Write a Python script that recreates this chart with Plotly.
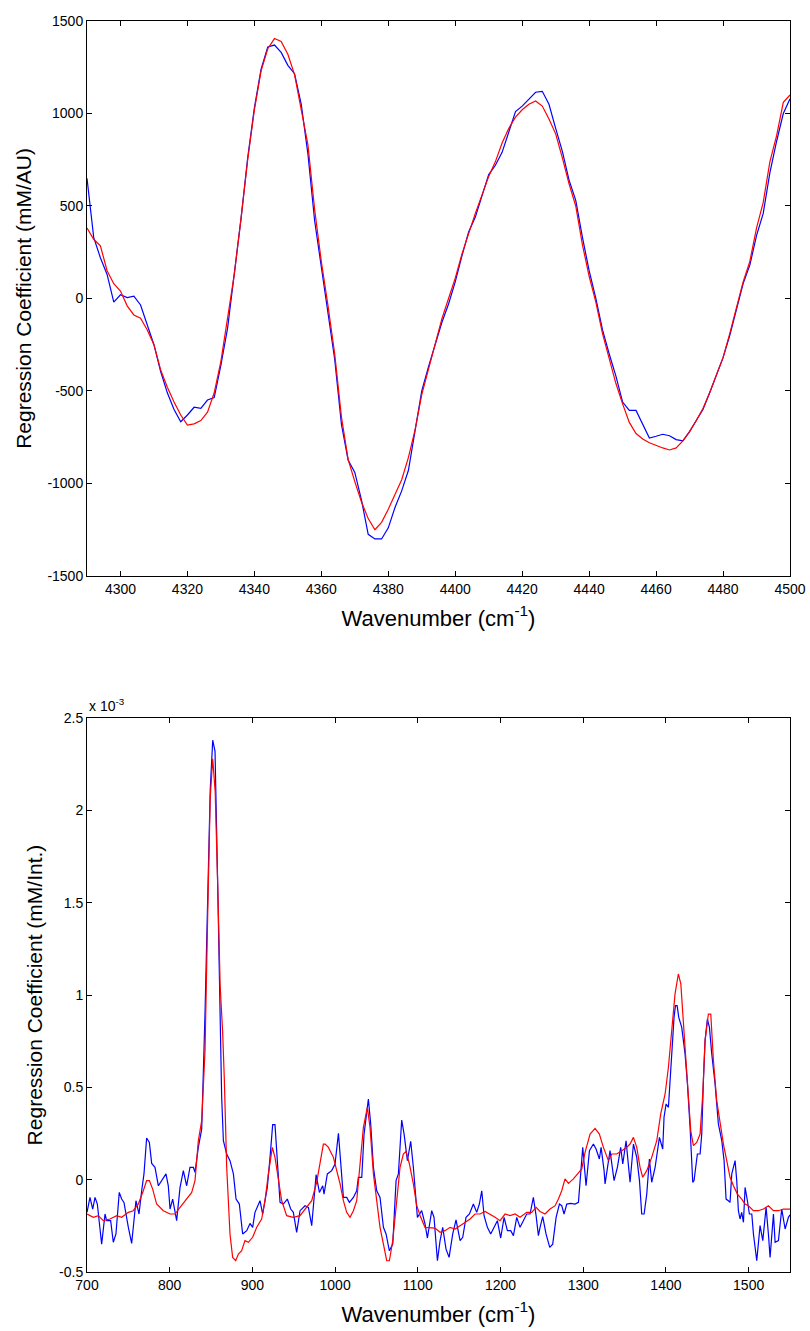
import plotly.graph_objects as go

# ---------- NIR regression vectors (upper panel) ----------
nir_wavenumber = [
    4290, 4292, 4294, 4296, 4298, 4300, 4302, 4304, 4306, 4308, 4310, 4312, 4314, 4316, 4318,
    4320, 4322, 4324, 4326, 4328, 4330, 4332, 4334, 4336, 4338, 4340, 4342, 4344, 4346, 4348,
    4350, 4352, 4354, 4356, 4358, 4360, 4362, 4364, 4366, 4368, 4370, 4372, 4374, 4376, 4378,
    4380, 4382, 4384, 4386, 4388, 4390, 4392, 4394, 4396, 4398, 4400, 4402, 4404, 4406, 4408,
    4410, 4412, 4414, 4416, 4418, 4420, 4422, 4424, 4426, 4428, 4430, 4432, 4434, 4436, 4438,
    4440, 4442, 4444, 4446, 4448, 4450, 4452, 4454, 4456, 4458, 4460, 4462, 4464, 4466, 4468,
    4470, 4472, 4474, 4476, 4478, 4480, 4482, 4484, 4486, 4488, 4490, 4492, 4494, 4496, 4498,
    4500,
]
nir_blue = [
    650, 330, 220, 130, -20, 20, 5, 13, -35, -140, -250, -395, -510, -600, -666,
    -630, -588, -594, -549, -536, -360, -160, 120, 430, 760, 1030, 1240, 1360, 1370, 1330,
    1260, 1215, 1050, 780, 420, 170, -100, -330, -680, -873, -940, -1090, -1275, -1300, -1300,
    -1240, -1130, -1040, -930, -711, -500, -370, -250, -130, -30, 90, 230, 360, 440, 560,
    670, 720, 790, 900, 1010, 1040, 1080, 1115, 1120, 1050, 920, 795, 640, 530, 330,
    150, 0, -170, -300, -420, -560, -605, -605, -680, -755, -745, -734, -742, -763, -770,
    -720, -660, -600, -510, -420, -320, -200, -60, 80, 180, 340, 460, 680, 850, 1000,
    1080,
]
nir_red = [
    381, 320, 285, 150, 80, 40, -40, -89, -107, -170, -250, -386, -480, -560, -630,
    -684, -678, -660, -615, -510, -340, -110, 130, 430, 750, 1020, 1230, 1350, 1405, 1390,
    1320, 1210, 1020, 830, 480, 200, -40, -300, -640, -870, -990, -1100, -1190, -1250, -1210,
    -1140, -1060, -980, -860, -711, -520, -380, -250, -110, 0, 110, 240, 352, 460, 560,
    660, 740, 840, 920, 980, 1020, 1050, 1068, 1040, 970, 890, 760, 620, 500, 290,
    120, -20, -190, -330, -460, -570, -670, -730, -760, -780, -795, -808, -819, -808, -770,
    -720, -660, -595, -510, -410, -320, -190, -50, 90, 200, 380, 520, 740, 880, 1060,
    1100,
]

# ---------- Raman regression vectors (lower panel, units of 1e-3) ----------
raman_blue_x = [
    700, 703.6, 706.9, 709.7, 712.5, 717.7, 721.8, 723.8, 728.6, 731.8, 735, 739, 741.9, 744.7,
    750, 754, 759.2, 762.9, 766.1, 768.9, 772.1, 775.4, 778.2, 782.2, 786.3, 790.3, 795.5,
    798.3, 800.4, 803.6, 808.4, 812.5, 816.5, 820.5, 824.5, 828.6, 830.6, 834.6, 838.7, 842.7,
    846, 849, 852, 854.8, 858, 860.8, 862.8, 864.9, 868.9, 872.9, 877, 880.2, 884.2, 888.2,
    893.1, 897.1, 900.3, 903.1, 909.2, 912.4, 915.2, 918, 921.3, 924.5, 927.3, 931.4, 933.4,
    937.4, 942.2, 946.3, 949.5, 953.5, 957.6, 963.6, 967.7, 971.7, 977, 981, 985, 986.6,
    990.6, 995.9, 999.9, 1004, 1006.8, 1010, 1014, 1017.3, 1022.1, 1026.1, 1028.1, 1032.2,
    1035, 1040.2, 1043, 1046.3, 1050.3, 1054.3, 1058.4, 1061.6, 1065.6, 1069.7, 1073.7,
    1076.5, 1080.5, 1083.4, 1087.4, 1091.4, 1094.6, 1099.5, 1104.7, 1108.7, 1111.6, 1116.8,
    1119.6, 1123.7, 1126.9, 1130.1, 1134.1, 1137.8, 1142.2, 1146.2, 1151.1, 1154.3, 1158.3,
    1162.4, 1167.2, 1171.2, 1174.4, 1177.3, 1180.1, 1184.1, 1188.1, 1192.2, 1196.2, 1200.2,
    1204.3, 1208.3, 1212.3, 1215.6, 1219.6, 1223.6, 1227.7, 1231.7, 1235.7, 1239.7, 1243,
    1245.8, 1247.8, 1251, 1255, 1259.5, 1263.1, 1267.2, 1271.2, 1274, 1276.8, 1280.1, 1284.9,
    1290.1, 1294.2, 1299.4, 1303.4, 1307.5, 1312.3, 1315.5, 1319.5, 1321.6, 1325.2, 1326.4,
    1332.4, 1337.3, 1341.3, 1345.3, 1347.8, 1351.8, 1356.6, 1360.7, 1364.7, 1368, 1370.7,
    1373.6, 1376.8, 1380, 1382.8, 1386.9, 1392.1, 1396.1, 1397.7, 1400.2, 1403, 1405, 1407,
    1409.8, 1411.5, 1413.5, 1415.5, 1419.1, 1423.1, 1426, 1429.2, 1432.4, 1434, 1438, 1441.3,
    1443.3, 1445.3, 1447.3, 1450.1, 1452.6, 1455.4, 1459.4, 1463.4, 1467.5, 1470.3, 1472.7,
    1475.5, 1477.5, 1479.6, 1483.6, 1485.6, 1487.6, 1489.6, 1491.6, 1493.7, 1495.7, 1498.5,
    1500.9, 1503.8, 1505.8, 1509.8, 1513.8, 1517.1, 1521.1, 1523.9, 1525.9, 1530, 1532, 1536,
    1540, 1544.1, 1548.1, 1550,
]
raman_blue = [
    -0.177, -0.096, -0.159, -0.096, -0.132, -0.349, -0.186, -0.222, -0.222, -0.339, -0.294,
    -0.069, -0.105, -0.123, -0.258, -0.345, -0.114, -0.186, -0.060, 0.031, 0.226, 0.202,
    0.088, 0.067, -0.033, -0.005, 0.031, -0.033, -0.159, -0.105, -0.222, -0.042, 0.049,
    -0.033, 0.067, 0.067, 0.040, 0.175, 0.274, 0.90, 1.60, 2.11, 2.38, 2.32, 1.60, 0.90,
    0.45, 0.211, 0.139, 0.103, 0.031, -0.105, -0.132, -0.294, -0.276, -0.237, -0.258, -0.177,
    -0.114, -0.186, -0.114, -0.042, 0.121, 0.298, 0.298, 0.031, -0.123, -0.132, -0.105,
    -0.159, -0.177, -0.285, -0.168, -0.141, -0.150, -0.249, 0.027, -0.069, -0.033, -0.078,
    0.031, 0.049, 0.085, 0.251, 0.085, -0.096, -0.096, -0.123, -0.096, -0.060, 0.013, 0.013,
    0.247, 0.437, 0.302, 0.067, -0.060, -0.096, -0.258, -0.294, -0.385, -0.349, -0.005,
    0.031, 0.323, 0.247, 0.103, 0.208, 0.067, -0.204, -0.168, -0.240, -0.316, -0.168,
    -0.204, -0.439, -0.330, -0.258, -0.376, -0.421, -0.294, -0.218, -0.330, -0.312, -0.204,
    -0.186, -0.132, -0.177, -0.132, -0.060, -0.195, -0.258, -0.294, -0.258, -0.222, -0.316,
    -0.204, -0.276, -0.276, -0.303, -0.204, -0.258, -0.222, -0.186, -0.186, -0.096, -0.195,
    -0.303, -0.258, -0.200, -0.294, -0.367, -0.349, -0.204, -0.132, -0.141, -0.186, -0.132,
    -0.128, -0.132, -0.123, 0.175, -0.033, 0.157, 0.193, 0.166, 0.112, 0.175, 0.049, -0.023,
    0.157, -0.005, 0.067, 0.175, 0.085, 0.211, -0.014, 0.193, 0.121, -0.005, -0.186,
    -0.186, -0.078, 0.112, -0.014, 0.067, 0.229, 0.166, 0.338, 0.410, 0.392, 0.554, 0.681,
    0.879, 0.943, 0.943, 0.879, 0.825, 0.681, 0.518, 0.283, -0.014, -0.005, 0.139, 0.139,
    0.247, 0.536, 0.753, 0.870, 0.825, 0.681, 0.518, 0.302, 0.211, 0.103, -0.105,
    -0.114, -0.123, 0.031, 0.103, -0.005, -0.168, -0.213, -0.177, -0.231, -0.042, -0.114,
    -0.186, -0.186, -0.294, -0.439, -0.249, -0.330, -0.150, -0.294, -0.421, -0.186, -0.339, -0.330,
    -0.159, -0.267, -0.204, -0.190,
]

raman_red_x = [
    700, 707.7, 713.7, 719.7, 727.8, 735.9, 741.9, 750, 756, 762.1, 768.1, 772.1, 775.4,
    779.4, 784.2, 792.3, 800.4, 806.4, 812.5, 820.5, 826.6, 830.6, 834.6, 838.7, 842.7, 846,
    849, 852, 855, 858, 861, 864, 866, 868.9, 872.9, 876.1, 879.8, 883, 887, 891, 895.1,
    900.3, 905.2, 911.2, 915.2, 919.3, 924.1, 927.3, 931.4, 935.4, 941.4, 949.5, 957.6,
    965.6, 971.7, 977.7, 981.7, 985.8, 988, 991.9, 997.9, 1001.9, 1006, 1010, 1014, 1018,
    1022.1, 1026.1, 1030.2, 1034.2, 1039, 1042.2, 1046.3, 1050.3, 1054.3, 1058.4, 1062.4,
    1065.6, 1069.7, 1074.5, 1078.5, 1082.5, 1085.8, 1089.8, 1094.6, 1098.7, 1103.5, 1108.7,
    1114.8, 1120.8, 1126.9, 1132.9, 1139, 1145, 1151.1, 1157.1, 1163.2, 1169.2, 1175.3,
    1181.3, 1187.3, 1193.4, 1199.4, 1205.5, 1211.5, 1217.6, 1223.6, 1231.7, 1237.7, 1243,
    1247.8, 1253.8, 1259.9, 1266, 1270, 1274, 1278, 1282.1, 1288.1, 1294.2, 1298.2, 1302.2,
    1308.3, 1314.3, 1319.5, 1324.4, 1330.4, 1334.5, 1340.5, 1346.6, 1352.6, 1356.6, 1360.7,
    1364.7, 1368.7, 1371.9, 1376.8, 1382.8, 1388.9, 1393.7, 1399, 1403, 1407, 1411, 1415,
    1418, 1423.1, 1427.2, 1430, 1433.2, 1437.2, 1441.3, 1444.5, 1447.3, 1451.3, 1454.2,
    1457.4, 1461.4, 1465.5, 1469.5, 1473.5, 1477.5, 1481.6, 1486.4, 1491.6, 1495.7, 1499.7,
    1505.8, 1511.8, 1517.9, 1523.9, 1530, 1536, 1542, 1548.1, 1550,
]
raman_red = [
    -0.186, -0.204, -0.195, -0.222, -0.213, -0.195, -0.204, -0.177, -0.168, -0.132, -0.060,
    -0.005, -0.005, -0.051, -0.132, -0.168, -0.186, -0.186, -0.150, -0.105, -0.069, -0.005,
    0.211, 0.320, 0.699, 1.45, 2.07, 2.28, 2.10, 1.60, 1.05, 0.80, 0.55, 0.067, -0.294,
    -0.421, -0.439, -0.403, -0.385, -0.330, -0.339, -0.312, -0.258, -0.213, -0.114, 0.031,
    0.175, 0.121, -0.005, -0.114, -0.195, -0.204, -0.195, -0.150, -0.114, -0.014, 0.085,
    0.193, 0.193, 0.175, 0.121, 0.049, -0.023, -0.114, -0.177, -0.204, -0.168, -0.114,
    0.067, 0.283, 0.392, 0.283, 0.031, -0.132, -0.258, -0.349, -0.439, -0.439, -0.330,
    -0.114, 0.067, 0.139, 0.153, 0.085, -0.023, -0.141, -0.204, -0.258, -0.258, -0.262,
    -0.285, -0.276, -0.258, -0.267, -0.249, -0.231, -0.213, -0.186, -0.186, -0.172, -0.186,
    -0.204, -0.222, -0.186, -0.195, -0.186, -0.204, -0.177, -0.177, -0.150, -0.172, -0.186,
    -0.159, -0.141, -0.105, -0.060, 0.004, -0.020, 0.004, 0.040, 0.058, 0.148, 0.247, 0.278,
    0.247, 0.175, 0.103, 0.139, 0.139, 0.157, 0.175, 0.193, 0.229, 0.175, 0.067, 0.013,
    0.049, 0.121, 0.211, 0.356, 0.464, 0.609, 0.789, 1.006, 1.114, 1.06, 0.717, 0.428,
    0.265, 0.184, 0.202, 0.247, 0.464, 0.753, 0.897, 0.897, 0.645, 0.428, 0.302, 0.193,
    0.103, 0.013, -0.033, -0.078, -0.105, -0.132, -0.141, -0.168, -0.168, -0.159, -0.141,
    -0.168, -0.168, -0.159, -0.159, -0.160,
]

# ---------- tick definitions ----------
nir_xticks = [4300, 4320, 4340, 4360, 4380, 4400, 4420, 4440, 4460, 4480, 4500]
nir_yticks = [-1500, -1000, -500, 0, 500, 1000, 1500]
raman_xticks = [700, 800, 900, 1000, 1100, 1200, 1300, 1400, 1500]
raman_yticks = [-0.5, 0, 0.5, 1, 1.5, 2, 2.5]
raman_ytext = ["-0.5", "0", "0.5", "1", "1.5", "2", "2.5"]

FONT = "Liberation Sans, Arial, sans-serif"
BLUE = "#0000ff"
RED = "#ff0000"

fig = go.Figure()
fig.add_trace(go.Scatter(x=nir_wavenumber, y=nir_blue, mode="lines",
                         line=dict(color=BLUE, width=1.2), xaxis="x", yaxis="y"))
fig.add_trace(go.Scatter(x=nir_wavenumber, y=nir_red, mode="lines",
                         line=dict(color=RED, width=1.2), xaxis="x", yaxis="y"))
fig.add_trace(go.Scatter(x=raman_blue_x, y=raman_blue, mode="lines",
                         line=dict(color=BLUE, width=1.2), xaxis="x2", yaxis="y2"))
fig.add_trace(go.Scatter(x=raman_red_x, y=raman_red, mode="lines",
                         line=dict(color=RED, width=1.2), xaxis="x2", yaxis="y2"))

axis_common = dict(
    showline=True, linecolor="black", linewidth=1, mirror="ticks",
    ticks="inside", ticklen=5, tickwidth=1, tickcolor="black",
    showgrid=False, zeroline=False, automargin=False,
    tickfont=dict(family=FONT, size=14, color="black"),
)
xtitle_font = dict(family=FONT, size=22, color="black")
ytitle_font = dict(family=FONT, size=21, color="black")

fig.update_layout(
    width=810, height=1331,
    margin=dict(l=87, r=20, t=21, b=59),
    paper_bgcolor="white", plot_bgcolor="white",
    showlegend=False,
    xaxis=dict(domain=[0, 1], anchor="y", range=[4290, 4500],
               tickvals=nir_xticks, ticktext=[str(v) for v in nir_xticks],
               title=dict(text="Wavenumber (cm<sup>-1</sup>)", font=xtitle_font, standoff=14),
               **axis_common),
    yaxis=dict(domain=[0.5564, 1], anchor="x", range=[-1500, 1500],
               tickvals=nir_yticks, ticktext=[str(v) for v in nir_yticks],
               title=dict(text="Regression Coefficient (mM/AU)", font=ytitle_font, standoff=10),
               **axis_common),
    xaxis2=dict(domain=[0, 1], anchor="y2", range=[700, 1550],
                tickvals=raman_xticks, ticktext=[str(v) for v in raman_xticks],
                title=dict(text="Wavenumber (cm<sup>-1</sup>)", font=xtitle_font, standoff=14),
                **axis_common),
    yaxis2=dict(domain=[0, 0.4428], anchor="x2", range=[-0.5, 2.5],
                tickvals=raman_yticks, ticktext=raman_ytext,
                title=dict(text="Regression Coefficient (mM/Int.)", font=ytitle_font, standoff=10),
                **axis_common),
    annotations=[dict(
        text="x 10<sup>-3</sup>", xref="paper", yref="paper", x=0, y=0.4428,
        xanchor="left", yanchor="bottom", yshift=2, showarrow=False,
        font=dict(family=FONT, size=14, color="black"),
    )],
)

fig.write_html("out.html")
